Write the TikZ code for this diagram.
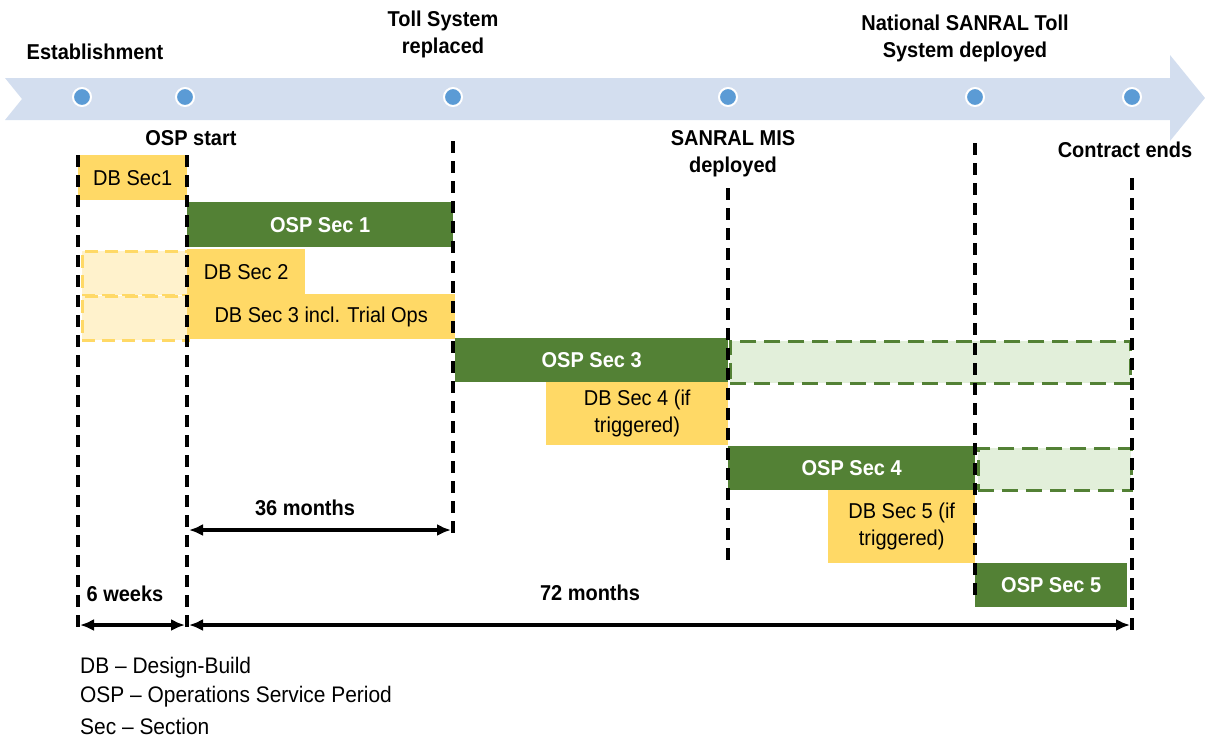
\documentclass[tikz,border=0pt]{standalone}
\usepackage{fontspec}
\setmainfont[FakeStretch=0.93]{Liberation Sans}
\usetikzlibrary{arrows.meta}
\definecolor{ylw}{HTML}{FFD966}
\definecolor{lylw}{HTML}{FFF2CC}
\definecolor{grn}{HTML}{538135}
\definecolor{lgrn}{HTML}{E2EFDA}
\definecolor{band}{HTML}{D3DEEF}
\definecolor{dotc}{HTML}{5B9BD5}
\newcommand\boxfont{\fontsize{21.5}{27}\selectfont}
\newcommand\legfont{\fontsize{22.5}{27}\selectfont}
\tikzset{
  bx/.style={inner sep=0pt, anchor=north west, align=center, font=\boxfont},
  ybox/.style={bx, fill=ylw},
  gbox/.style={bx, fill=grn, text=white, font=\boxfont\bfseries},
  ghosty/.style={bx, fill=lylw, draw=ylw, line width=2.5pt, dash pattern=on 13pt off 7pt},
  ghostg/.style={bx, fill=lgrn, draw=grn, line width=2.5pt, dash pattern=on 16pt off 8pt},
  tl/.style={font=\boxfont\bfseries, align=center, inner sep=0pt},
  dot/.style={circle, fill=dotc, draw=white, line width=2pt, minimum size=18pt, inner sep=0pt},
  vdash/.style={line width=3.2pt, dash pattern=on 12pt off 8pt},
  span/.style={line width=3.2pt, {Latex[length=14pt,width=12pt]}-{Latex[length=14pt,width=12pt]}},
  leg/.style={anchor=west, font=\legfont, inner sep=0pt}
}
\begin{document}
\begin{tikzpicture}[x=1pt,y=-1pt]
\useasboundingbox (0,0) rectangle (1205,740);
% timeline band
\fill[band] (5,78) -- (1170,78) -- (1170,55) -- (1205,98) -- (1170,141) -- (1170,120) -- (5,120) -- (22,99) -- cycle;
\node[dot] (d1) at (82,97) {};
\node[dot] (d2) at (185,97) {};
\node[dot] (d3) at (453,97) {};
\node[dot] (d4) at (728,97) {};
\node[dot] (d5) at (975,97) {};
\node[dot] (d6) at (1132,97) {};
% milestone labels
\node[tl] (lest) at (95,52) {Establishment};
\node[tl] (ltoll) at (443,34) {Toll System\\replaced};
\node[tl] (lnat) at (965,38) {National SANRAL Toll\\System deployed};
\node[tl] (losp) at (191,138) {OSP start};
\node[tl] (lmis) at (733,154) {SANRAL MIS\\deployed};
\node[tl] (lend) at (1125,150) {Contract ends};
% boxes
\node[ybox, minimum width=109pt, minimum height=45pt] (db1) at (78,155) {DB Sec1};
\node[gbox, minimum width=266pt, minimum height=45pt] (osp1) at (187,202) {OSP Sec 1};
\node[ghosty, minimum width=106pt, minimum height=44pt] (gy1) at (81,250) {};
\node[ghosty, minimum width=106pt, minimum height=44pt] (gy2) at (81,295) {};
\node[ybox, minimum width=118pt, minimum height=45pt] (db2) at (187,249) {DB Sec 2};
\node[ybox, minimum width=268pt, minimum height=45pt] (db3) at (187,294) {DB Sec 3 incl. Trial Ops};
\node[gbox, minimum width=273pt, minimum height=44pt] (osp3) at (455,338) {OSP Sec 3};
\node[ghostg, minimum width=400pt, minimum height=42pt] (gg1) at (729,340) {};
\node[ybox, minimum width=182pt, minimum height=63pt] (db4) at (546,382) {DB Sec 4 (if\\triggered)};
\node[gbox, minimum width=247pt, minimum height=44pt] (osp4) at (728,446) {OSP Sec 4};
\node[ghostg, minimum width=153pt, minimum height=42pt] (gg2) at (977,447) {};
\node[ybox, minimum width=147pt, minimum height=73pt] (db5) at (828,490) {DB Sec 5 (if\\triggered)};
\node[gbox, minimum width=152pt, minimum height=44pt] (osp5) at (975,563) {OSP Sec 5};
% dashed verticals
\coordinate (v1t) at (78,155);  \coordinate (v1b) at (78,630);
\coordinate (v2t) at (187,155); \coordinate (v2b) at (187,630);
\coordinate (v3t) at (453,141); \coordinate (v3b) at (453,540);
\coordinate (v4t) at (728,188); \coordinate (v4b) at (728,565);
\coordinate (v5t) at (975,143); \coordinate (v5b) at (975,600);
\coordinate (v6t) at (1132,178); \coordinate (v6b) at (1132,630);
\draw[vdash] (v1t) -- (v1b);
\draw[vdash] (v2t) -- (v2b);
\draw[vdash] (v3t) -- (v3b);
\draw[vdash] (v4t) -- (v4b);
\draw[vdash] (v5t) -- (v5b);
\draw[vdash] (v6t) -- (v6b);
% spans
\coordinate (a36l) at (189,530); \coordinate (a36r) at (451,530);
\draw[span] (a36l) -- (a36r);
\node[tl] (l36) at (305,508) {36 months};
\coordinate (a6l) at (80,625); \coordinate (a6r) at (185,625);
\draw[span] (a6l) -- (a6r);
\node[tl] (l6) at (125,594) {6 weeks};
\coordinate (a72l) at (189,625); \coordinate (a72r) at (1130,625);
\draw[span] (a72l) -- (a72r);
\node[tl] (l72) at (590,593) {72 months};
% legend
\node[leg] (leg1) at (80,668) {DB – Design-Build};
\node[leg] (leg2) at (80,697) {OSP – Operations Service Period};
\node[leg] (leg3) at (80,726) {Sec – Section};
\end{tikzpicture}
\end{document}
